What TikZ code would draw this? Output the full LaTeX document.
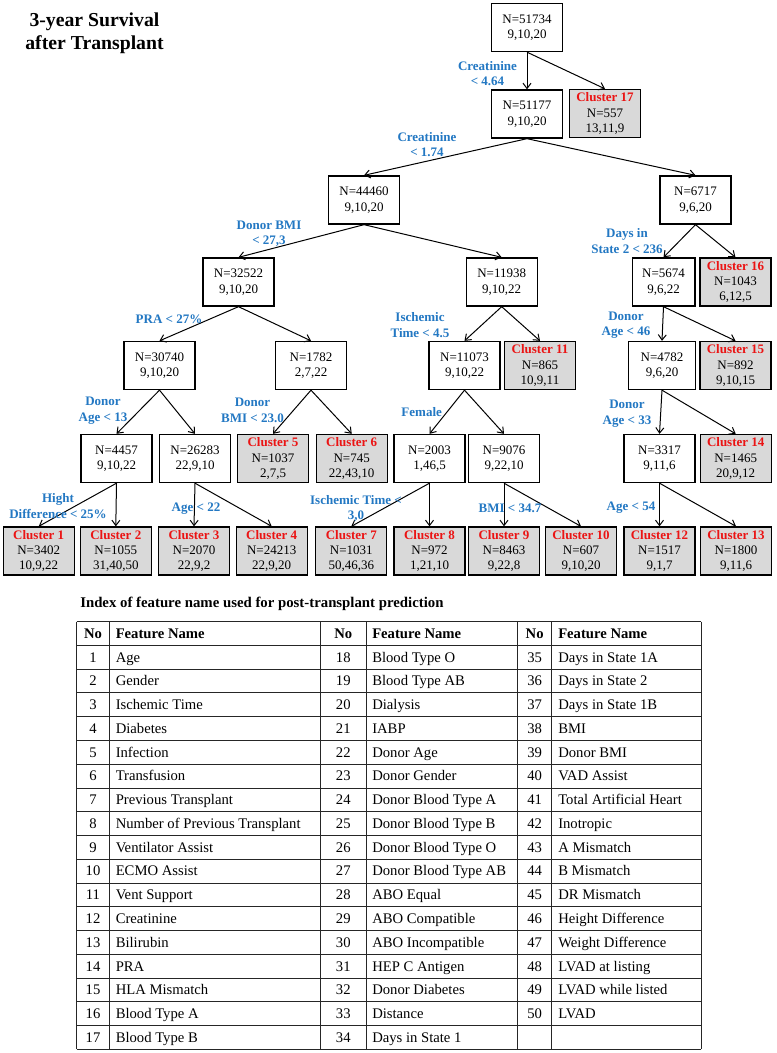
\documentclass[tikz,border=0pt]{standalone}
\usepackage{fontspec}
\setmainfont{Liberation Serif}
\usetikzlibrary{arrows.meta}
\definecolor{lblue}{RGB}{35,120,195}
\definecolor{cred}{RGB}{235,20,20}
\definecolor{cgray}{RGB}{217,217,217}
\newcommand\clname[1]{\textcolor{cred}{\bfseries Cluster #1}}
\begin{document}
\begin{tikzpicture}[x=0.75pt,y=-0.75pt,
  box/.style={draw=black,line width=1pt,minimum width=53.25pt,minimum height=36pt,inner sep=0pt,align=center,font=\fontsize{9.75}{11.6}\selectfont},
  leaf/.style={box,fill=cgray},
  arr/.style={-{Straight Barb[length=4pt,width=6pt]},line width=0.75pt},
  lbl/.style={text=lblue,font=\fontsize{9.75}{11.6}\selectfont\bfseries,align=center,inner sep=0pt},
  tnum/.style={anchor=base,inner sep=0pt,font=\fontsize{11}{13}\selectfont},
  tname/.style={anchor=base west,inner sep=0pt,font=\fontsize{11}{13}\selectfont},
  rule/.style={draw=black!85,line width=0.75pt}]
\useasboundingbox[fill=white] (0,0) rectangle (776,1053);

% title
\node[align=center,inner sep=0pt,font=\fontsize{14.8}{17.5}\selectfont\bfseries] (title) at (94.5,33.4) {3-year Survival\\after Transplant};

% tree nodes
\node[box] (root) at (527,27.5) {N=51734\\9,10,20};
\node[box] (n51177) at (527,114) {N=51177\\9,10,20};
\node[leaf] (c17) at (605,113.5) {\clname{17}\\N=557\\13,11,9};
\node[box] (n44460) at (364,200) {N=44460\\9,10,20};
\node[box] (n6717) at (695.5,200) {N=6717\\9,6,20};
\node[box] (n32522) at (238.5,282) {N=32522\\9,10,20};
\node[box] (n11938) at (501.7,282) {N=11938\\9,10,22};
\node[box,minimum width=47pt] (n5674) at (663.5,282) {N=5674\\9,6,22};
\node[leaf] (c16) at (735.5,282) {\clname{16}\\N=1043\\6,12,5};
\node[box] (n30740) at (159.5,365.5) {N=30740\\9,10,20};
\node[box] (n1782) at (311,365.5) {N=1782\\2,7,22};
\node[box] (n11073) at (464.5,365.5) {N=11073\\9,10,22};
\node[leaf] (c11) at (540,365.5) {\clname{11}\\N=865\\10,9,11};
\node[box,minimum width=50pt] (n4782) at (662,365.5) {N=4782\\9,6,20};
\node[leaf] (c15) at (735.5,365.5) {\clname{15}\\N=892\\9,10,15};
\node[box] (n4457) at (116.5,458.5) {N=4457\\9,10,22};
\node[box] (n26283) at (195,458.5) {N=26283\\22,9,10};
\node[leaf] (c5) at (273,458.5) {\clname{5}\\N=1037\\2,7,5};
\node[leaf] (c6) at (351.7,458.5) {\clname{6}\\N=745\\22,43,10};
\node[box] (n2003) at (429.5,458.5) {N=2003\\1,46,5};
\node[box] (n9076) at (504,458.5) {N=9076\\9,22,10};
\node[box] (n3317) at (659.5,458.5) {N=3317\\9,11,6};
\node[leaf] (c14) at (735.7,458.5) {\clname{14}\\N=1465\\20,9,12};
\node[leaf] (c1) at (38.7,551) {\clname{1}\\N=3402\\10,9,22};
\node[leaf] (c2) at (115.8,551) {\clname{2}\\N=1055\\31,40,50};
\node[leaf] (c3) at (194,551) {\clname{3}\\N=2070\\22,9,2};
\node[leaf] (c4) at (271.7,551) {\clname{4}\\N=24213\\22,9,20};
\node[leaf] (c7) at (351.3,551) {\clname{7}\\N=1031\\50,46,36};
\node[leaf] (c8) at (429.5,551) {\clname{8}\\N=972\\1,21,10};
\node[leaf] (c9) at (504,551) {\clname{9}\\N=8463\\9,22,8};
\node[leaf] (c10) at (581,551) {\clname{10}\\N=607\\9,10,20};
\node[leaf] (c12) at (659.5,551) {\clname{12}\\N=1517\\9,1,7};
\node[leaf] (c13) at (736,551) {\clname{13}\\N=1800\\9,11,6};

% connectors
\foreach \p/\c in {root/n51177,root/c17,n51177/n44460,n51177/n6717,n44460/n32522,n44460/n11938,
  n6717/n5674,n6717/c16,n32522/n30740,n32522/n1782,n11938/n11073,n11938/c11,n5674/n4782,n5674/c15,
  n30740/n4457,n30740/n26283,n1782/c5,n1782/c6,n11073/n2003,n11073/n9076,n4782/n3317,n4782/c14,
  n4457/c1,n4457/c2,n26283/c3,n26283/c4,n2003/c7,n2003/c8,n9076/c9,n9076/c10,n3317/c12,n3317/c13}
  \draw[arr] (\p.south) -- (\c.north);

% split labels
\node[lbl] (l1) at (487.5,73.4) {Creatinine\\< 4.64};
\node[lbl] (l2) at (427,144.5) {Creatinine\\< 1.74};
\node[lbl] (l3) at (269,234) {Donor BMI\\< 27,3};
\node[lbl] (l4) at (169,319) {PRA < 27\%};
\node[lbl] (l5) at (420,325) {Ischemic\\Time < 4.5};
\node[lbl] (l6) at (627,241) {Days in\\State 2 < 236};
\node[lbl] (l7) at (626,325) {Donor\\Age < 46};
\node[lbl] (l8) at (103,410.5) {Donor\\Age < 13};
\node[lbl] (l9) at (252.5,410.5) {Donor\\BMI < 23.0};
\node[lbl] (l10) at (421.7,412) {Female};
\node[lbl] (l11) at (627,413.7) {Donor\\Age < 33};
\node[lbl] (l12) at (58,506) {Hight\\Difference < 25\%};
\node[lbl] (l13) at (196,509) {Age < 22};
\node[lbl] (l14) at (356,508.7) {Ischemic Time <\\3,0};
\node[lbl] (l15) at (510,508) {BMI < 34.7};
\node[lbl] (l16) at (631,508) {Age < 54};

% table title
\node[anchor=west,inner sep=0pt,font=\fontsize{11.1}{13}\selectfont\bfseries] (ttitle) at (80,604) {Index of feature name used for post-transplant prediction};

% table grid
\foreach \r in {0,...,18}
  \draw[rule] (76.7,{621.7+23.76*\r}) -- (701,{621.7+23.76*\r});
\foreach \cx in {76.7,109.3,320.7,366,517.7,551.7,701}
  \draw[rule] (\cx,621.7) -- (\cx,1049.4);

% header
\foreach \nx/\fx [count=\k] in {93/115.5,343.3/372,534.7/558}{
  \node[tnum,font=\fontsize{11}{13}\selectfont\bfseries] (hno\k) at (\nx,638.6) {No};
  \node[tname,font=\fontsize{11}{13}\selectfont\bfseries] (hfn\k) at (\fx,638.6) {Feature Name};
}

% rows
\foreach \a/\b/\c/\d/\e/\f [count=\r] in {
 1/Age/18/Blood Type O/35/Days in State 1A,
 2/Gender/19/Blood Type AB/36/Days in State 2,
 3/Ischemic Time/20/Dialysis/37/Days in State 1B,
 4/Diabetes/21/IABP/38/BMI,
 5/Infection/22/Donor Age/39/Donor BMI,
 6/Transfusion/23/Donor Gender/40/VAD Assist,
 7/Previous Transplant/24/Donor Blood Type A/41/Total Artificial Heart,
 8/Number of Previous Transplant/25/Donor Blood Type B/42/Inotropic,
 9/Ventilator Assist/26/Donor Blood Type O/43/A Mismatch,
 10/ECMO Assist/27/Donor Blood Type AB/44/B Mismatch,
 11/Vent Support/28/ABO Equal/45/DR Mismatch,
 12/Creatinine/29/ABO Compatible/46/Height Difference,
 13/Bilirubin/30/ABO Incompatible/47/Weight Difference,
 14/PRA/31/HEP C Antigen/48/LVAD at listing,
 15/HLA Mismatch/32/Donor Diabetes/49/LVAD while listed,
 16/Blood Type A/33/Distance/50/LVAD,
 17/Blood Type B/34/Days in State 1/ / }{
  \pgfmathsetmacro\yy{621.7+23.76*(\r+0.5)+4.8}
  \node[tnum] (na\r) at (93,\yy) {\a};
  \node[tname] (fa\r) at (115.5,\yy) {\b};
  \node[tnum] (nb\r) at (343.3,\yy) {\c};
  \node[tname] (fb\r) at (372,\yy) {\d};
  \node[tnum] (nc\r) at (534.7,\yy) {\e};
  \node[tname] (fc\r) at (558,\yy) {\f};
}
\end{tikzpicture}
\end{document}
